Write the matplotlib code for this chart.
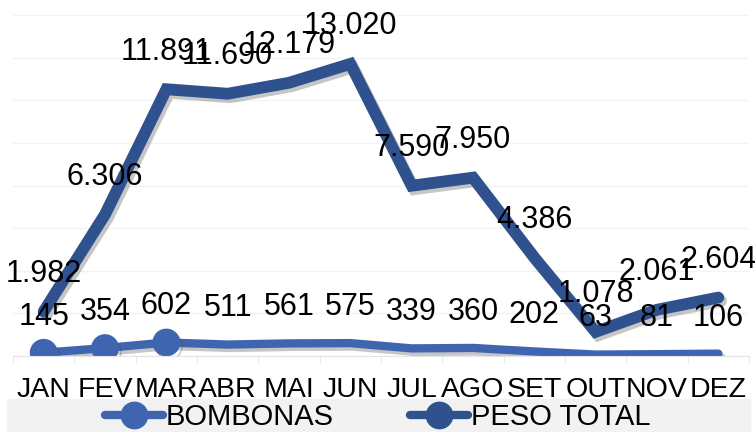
import numpy as np
import matplotlib.pyplot as plt
import matplotlib.patheffects as pe
from matplotlib.lines import Line2D
from matplotlib.patches import Rectangle

plt.rcParams['font.family'] = ['Liberation Sans', 'DejaVu Sans']

meses = ['JAN', 'FEV', 'MAR', 'ABR', 'MAI', 'JUN', 'JUL', 'AGO', 'SET', 'OUT', 'NOV', 'DEZ']
bombonas = [145, 354, 602, 511, 561, 575, 339, 360, 202, 63, 81, 106]
peso_total = [1982, 6306, 11891, 11690, 12179, 13020, 7590, 7950, 4386, 1078, 2061, 2604]

cor_bomb = '#3F65B0'
cor_peso = '#2F528F'


def fmt(v):
    return f"{v:,}".replace(',', '.')


fig = plt.figure(figsize=(7.55, 4.32), dpi=100)
ax = fig.add_axes([13 / 755, 1 - 356 / 432, 736 / 755, 341 / 432])

x = np.arange(len(meses))
sombra = [pe.SimpleLineShadow(offset=(2, -2.5), shadow_color='#444444', alpha=0.3),
          pe.Normal()]

ax.plot(x, bombonas, color=cor_bomb, lw=6, solid_capstyle='round',
        marker='o', markersize=19, markevery=[0, 1, 2], zorder=2,
        path_effects=sombra)
ax.plot(x, peso_total, color=cor_peso, lw=8.5, solid_capstyle='round',
        solid_joinstyle='miter', zorder=3, path_effects=sombra)

for i, v in enumerate(bombonas):
    ax.annotate(fmt(v), (x[i], v), xytext=(0, 26), textcoords='offset points',
                ha='center', va='center', fontsize=22, zorder=5)
for i, v in enumerate(peso_total):
    ax.annotate(fmt(v), (x[i], v), xytext=(0, 27), textcoords='offset points',
                ha='center', va='center', fontsize=22, zorder=5)

ymax = 15200
ax.set_xlim(-0.5, len(meses) - 0.5)
ax.set_ylim(0, ymax)
ax.set_yticks(np.linspace(0, ymax, 9))
ax.yaxis.grid(True, color='#F3F3F3', lw=1)
ax.set_axisbelow(True)
ax.tick_params(axis='y', left=False, labelleft=False)
ax.set_xticks(x)
ax.set_xticklabels(meses, fontsize=20.5)
ax.tick_params(axis='x', length=0, pad=15)
ax.set_xticks(np.arange(-0.5, len(meses), 1), minor=True)
ax.tick_params(axis='x', which='minor', length=5, color='#E3E3E3')
for s in ['top', 'right', 'left']:
    ax.spines[s].set_visible(False)
ax.spines['bottom'].set_color('#E3E3E3')

fig.patches.append(Rectangle((7 / 755, 0), 743 / 755, 33 / 432,
                             transform=fig.transFigure, color='#F2F2F2', zorder=0))
handles = [Line2D([], [], color=cor_bomb, lw=6, marker='o', markersize=19,
                  solid_capstyle='round'),
           Line2D([], [], color=cor_peso, lw=6, marker='o', markersize=19,
                  solid_capstyle='round')]
fig.legend(handles, ['BOMBONAS', 'PESO TOTAL'], loc='center',
           bbox_to_anchor=(0.5, 15 / 432), ncol=2, frameon=False, fontsize=21,
           handlelength=2.0, handletextpad=0.1, columnspacing=2.6,
           borderaxespad=0, borderpad=0)

fig.savefig('out.png', dpi=100)
